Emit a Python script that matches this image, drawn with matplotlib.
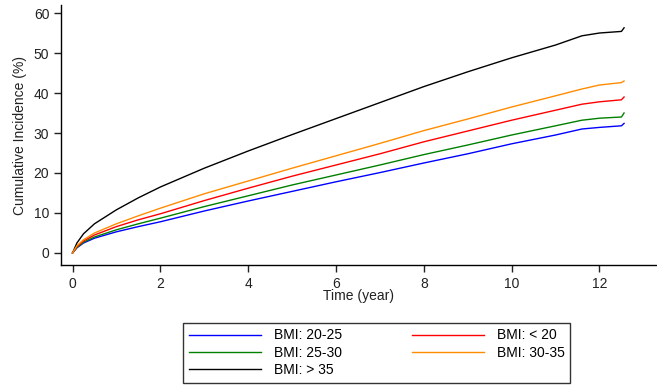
import matplotlib
matplotlib.use("Agg")
import matplotlib.pyplot as plt

plt.rcParams['font.family'] = ['Liberation Sans', 'DejaVu Sans']

time = [0, 0.1, 0.25, 0.5, 1, 1.5, 2, 3, 4, 5, 6, 7, 8, 9, 10, 11, 11.6, 12, 12.5, 12.56]
bmi_20_25 = [0, 1.3, 2.5, 3.7, 5.3, 6.6, 7.8, 10.5, 13.0, 15.4, 17.8, 20.1, 22.5, 24.8, 27.3, 29.5, 31.0, 31.4, 31.8, 32.4]
bmi_lt_20 = [0, 1.6, 3.0, 4.5, 6.6, 8.3, 9.8, 13.1, 16.2, 19.2, 22.0, 24.8, 27.8, 30.5, 33.2, 35.7, 37.2, 37.8, 38.3, 39.0]
bmi_25_30 = [0, 1.4, 2.7, 4.0, 5.8, 7.3, 8.7, 11.6, 14.3, 17.0, 19.5, 22.0, 24.6, 27.0, 29.5, 31.8, 33.2, 33.7, 34.0, 35.0]
bmi_30_35 = [0, 1.8, 3.3, 5.0, 7.3, 9.3, 11.2, 14.8, 18.0, 21.2, 24.3, 27.4, 30.6, 33.5, 36.5, 39.3, 41.0, 42.0, 42.6, 43.0]
bmi_gt_35 = [0, 2.5, 4.8, 7.3, 10.8, 13.8, 16.5, 21.2, 25.5, 29.6, 33.6, 37.6, 41.6, 45.3, 48.8, 52.0, 54.3, 55.0, 55.4, 56.3]

labels = ['BMI: 20-25', 'BMI: 25-30', 'BMI: > 35', 'BMI: < 20', 'BMI: 30-35']
series = [bmi_20_25, bmi_25_30, bmi_gt_35, bmi_lt_20, bmi_30_35]
colors = ['#0000ff', '#008000', '#000000', '#ff0000', '#ff8c00']

xticks = [0, 2, 4, 6, 8, 10, 12]
yticks = [0, 10, 20, 30, 40, 50, 60]

fig = plt.figure(figsize=(6.57, 3.86), dpi=100)
ax = fig.add_axes([0.093, 0.3135, 0.905, 0.6735])

for y, lab, c in zip(series, labels, colors):
    ax.plot(time, y, color=c, lw=1.0, label=lab)

ax.set_xlim(-0.26, 13.28)
ax.set_ylim(-3, 62)
ax.set_xticks(xticks)
ax.set_yticks(yticks)
ax.spines['top'].set_visible(False)
ax.spines['right'].set_visible(False)
for s in ['left', 'bottom']:
    ax.spines[s].set_linewidth(1.0)
ax.tick_params(direction='out', length=5, width=1, labelsize=10, colors='#222222')
ax.set_ylabel('Cumulative Incidence (%)', fontsize=10, color='#222222', labelpad=5)
ax.set_xlabel('Time (year)', fontsize=10, color='#222222', labelpad=-1)

handles, labs = ax.get_legend_handles_labels()
leg = fig.legend(handles, labs, ncol=2, loc='lower left',
                 bbox_to_anchor=(0.279, 0.008, 0.589, 0.184), mode='expand',
                 fontsize=10, frameon=True, fancybox=False, edgecolor='black',
                 handlelength=5.2, handletextpad=0.9, borderaxespad=0,
                 labelspacing=0.25, borderpad=0.4, columnspacing=2.0)
leg.get_frame().set_linewidth(1.0)

fig.savefig('out.png', dpi=100)
